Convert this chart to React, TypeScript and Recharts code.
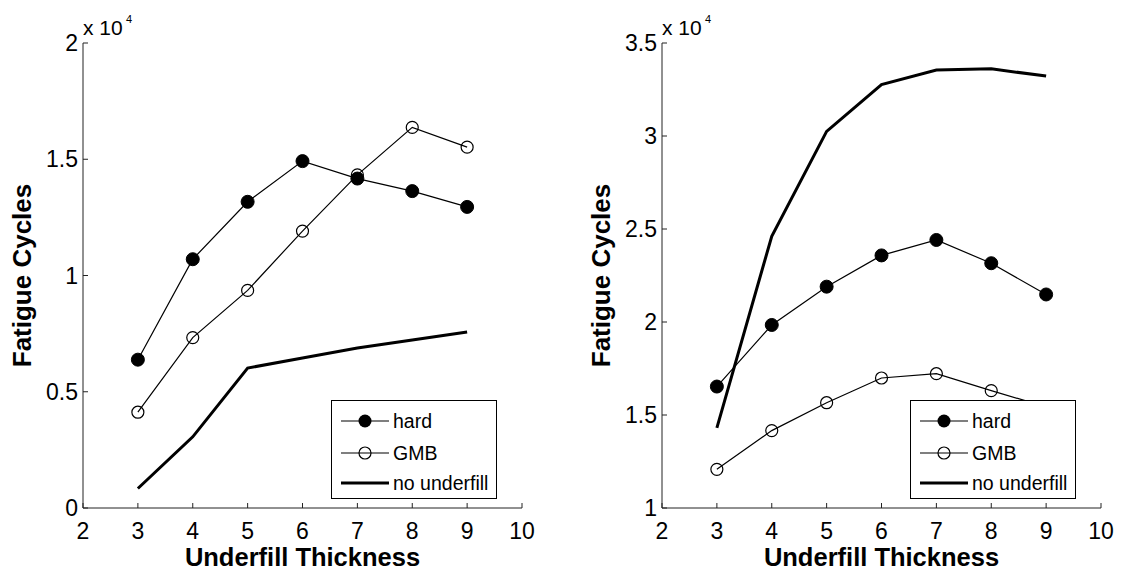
import React from 'react'
import { LineChart, Line, XAxis, YAxis, Legend } from 'recharts'

// underfill thickness on the x axis
const thickness = [3, 4, 5, 6, 7, 8, 9]
const xTicks = [2, 3, 4, 5, 6, 7, 8, 9, 10]

// fatigue cycles, left panel
const leftHard = [6380, 10700, 13170, 14920, 14170, 13630, 12950]
const leftGmb = [4120, 7330, 9360, 11910, 14330, 16370, 15520]
const leftNone = [840, 3060, 6020, 6450, 6880, 7230, 7570]
const leftTicks = [0, 5000, 10000, 15000, 20000]

// fatigue cycles, right panel
const rightHard = [16530, 19840, 21900, 23580, 24410, 23160, 21480]
const rightGmb = [12080, 14160, 15660, 16990, 17220, 16310, 15440]
const rightNone = [14310, 24610, 30250, 32760, 33550, 33610, 33220]
const rightTicks = [10000, 15000, 20000, 25000, 30000, 35000]

const FONT = '"Liberation Sans", Arial, Helvetica, sans-serif'
const INK = '#000'
const FRAME = '#222'

const legendItems = [
  { name: 'hard', marker: 'filled', width: 1.2 },
  { name: 'GMB', marker: 'open', width: 1.2 },
  { name: 'no underfill', marker: 'none', width: 3 },
]

function buildRows(hard: number[], gmb: number[], none: number[]) {
  return thickness.map((x, i) => ({ x, hard: hard[i], gmb: gmb[i], none: none[i] }))
}

const fmt = (v: number) => String(v / 10000)

function LegendBox() {
  const rows = [20, 52, 82]
  return (
    <div style={{ width: 164, height: 97, border: `1px solid ${INK}`, background: '#fff', fontFamily: FONT }}>
      <svg width={164} height={97}>
        {legendItems.map((it, i) => (
          <g key={it.name}>
            <line x1={9} x2={57} y1={rows[i]} y2={rows[i]} stroke={INK} strokeWidth={it.width} />
            {it.marker === 'filled' && <circle cx={33} cy={rows[i]} r={6.5} fill={INK} />}
            {it.marker === 'open' && <circle cx={33} cy={rows[i]} r={6} fill="none" stroke={INK} strokeWidth={1.2} />}
            <text x={61} y={rows[i] + 7} style={{ fontSize: 19.5, fontFamily: FONT }} fill={INK}>{it.name}</text>
          </g>
        ))}
      </svg>
    </div>
  )
}

// y title plus the "x 10^4" exponent note above the axis
function YTitle({ viewBox }: any) {
  const left = viewBox.x + viewBox.width
  const cx = left - 61
  const cy = viewBox.y + viewBox.height / 2
  return (
    <g>
      <text x={cx} y={cy} transform={`rotate(-90 ${cx} ${cy})`} textAnchor="middle" dominantBaseline="central"
        style={{ fontSize: 26, fontWeight: 'bold', fontFamily: FONT }} fill={INK}>Fatigue Cycles</text>
      <text x={left} y={viewBox.y - 8} style={{ fontSize: 21, fontFamily: FONT }} fill={INK}>x 10</text>
      <text x={left + 43} y={viewBox.y - 20} style={{ fontSize: 11, fontFamily: FONT }} fill={INK}>4</text>
    </g>
  )
}

function XTitle({ viewBox }: any) {
  const cx = viewBox.x + viewBox.width / 2
  return (
    <text x={cx} y={viewBox.y + 58} textAnchor="middle" style={{ fontSize: 25.5, fontWeight: 'bold', fontFamily: FONT }} fill={INK}>
      Underfill Thickness
    </text>
  )
}

interface PanelProps {
  width: number
  marginLeft: number
  marginRight: number
  hard: number[]
  gmb: number[]
  none: number[]
  ticks: number[]
}

function Panel({ width, marginLeft, marginRight, hard, gmb, none, ticks }: PanelProps) {
  const data = buildRows(hard, gmb, none)
  const domain: [number, number] = [ticks[0], ticks[ticks.length - 1]]
  const plotLeft = marginLeft + 60
  const tickStyle = { fontSize: 23, fill: INK, fontFamily: FONT }
  return (
    <LineChart width={width} height={576} data={data} margin={{ top: 43, right: marginRight, bottom: 8, left: marginLeft }}>
      <XAxis dataKey="x" type="number" domain={[2, 10]} ticks={xTicks} height={60} allowDecimals={false}
        tickSize={-5} tickMargin={20} fontSize={23} tick={tickStyle} stroke={FRAME} tickLine={{ stroke: FRAME }}
        label={<XTitle />} />
      <XAxis xAxisId="top" orientation="top" dataKey="x" type="number" domain={[2, 10]} ticks={xTicks} height={0}
        tickSize={-5} tick={false} stroke={FRAME} />
      <YAxis type="number" domain={domain} ticks={ticks} width={60} tickSize={-5} tickMargin={10} fontSize={23}
        tickFormatter={fmt} tick={tickStyle} stroke={FRAME} label={<YTitle />} />
      <YAxis yAxisId="right" orientation="right" type="number" domain={domain} ticks={ticks} width={0}
        tickSize={-5} tick={false} stroke={FRAME} />
      <Line dataKey="hard" type="linear" stroke={INK} strokeWidth={1.2} isAnimationActive={false}
        dot={{ r: 6.5, fill: INK, stroke: INK, strokeWidth: 1 }} activeDot={false} />
      <Line dataKey="gmb" type="linear" stroke={INK} strokeWidth={1.2} isAnimationActive={false}
        dot={{ r: 6, fill: 'none', stroke: INK, strokeWidth: 1.2 }} activeDot={false} />
      <Line dataKey="none" type="linear" stroke={INK} strokeWidth={3} isAnimationActive={false}
        dot={false} activeDot={false} />
      <Legend layout="vertical" align="center" verticalAlign="middle" content={<LegendBox />}
        wrapperStyle={{ left: plotLeft + 248, top: 400, width: 166, height: 99 }} />
    </LineChart>
  )
}

export default function App() {
  return (
    <div style={{ position: 'absolute', left: 0, top: 0, width: 1123, height: 576, background: '#fff', fontFamily: FONT }}>
      <div style={{ position: 'absolute', left: 0, top: 0 }}>
        <Panel width={560} marginLeft={23} marginRight={38} hard={leftHard} gmb={leftGmb} none={leftNone} ticks={leftTicks} />
      </div>
      <div style={{ position: 'absolute', left: 560, top: 0 }}>
        <Panel width={563} marginLeft={42} marginRight={22} hard={rightHard} gmb={rightGmb} none={rightNone} ticks={rightTicks} />
      </div>
    </div>
  )
}
